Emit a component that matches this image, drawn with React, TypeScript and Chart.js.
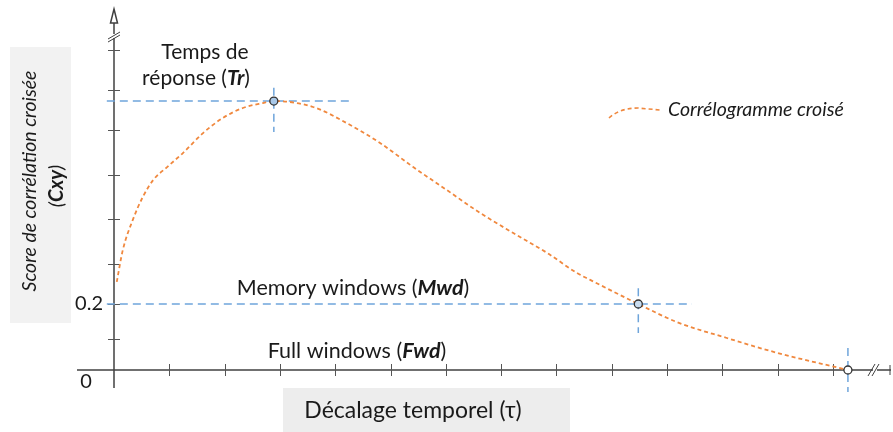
import React, { useEffect, useRef } from "react";
import { Chart, registerables } from "chart.js";
Chart.register(...registerables);

// Cross-correlogram curve: lag (tick units) and correlation score
const lagTau = [0.05, 0.16, 0.34, 0.52, 0.71, 0.96, 1.25, 1.61, 1.97, 2.33, 2.69, 2.89, 3.6, 4.21, 4.81, 5.41, 6.02, 6.62, 7.22, 7.83, 8.37, 8.61, 9.48, 10.18, 11.08, 11.99, 13.27];
const corrCxy = [0.267, 0.364, 0.455, 0.524, 0.576, 0.615, 0.658, 0.718, 0.764, 0.794, 0.809, 0.815, 0.797, 0.748, 0.688, 0.615, 0.545, 0.476, 0.415, 0.355, 0.294, 0.273, 0.2, 0.145, 0.097, 0.052, 0];

// Key points: Tr, Mwd, Fwd
const markerTau = [2.89, 9.48, 13.27];
const markerCxy = [0.815, 0.2, 0];

// Guide lines (blue dashed)
const trHorizTau = [-0.13, 4.27];
const trVertCxy = [0.855, 0.721];
const mwdHorizTau = [-0.13, 10.45];
const mwdVertCxy = [0.248, 0.112];
const fwdVertCxy = [0.067, -0.067];

// Axis ticks
const xTickValues = [1, 2, 3, 4, 5, 6, 7, 8, 9, 10, 11, 12, 13];
const yTickValues = [0.094, 0.2, 0.321, 0.458, 0.591, 0.727, 0.848, 0.97];
const yLabelValues = [0.2];
const yLabelTexts = ["0.2"];

const X_MAX = 13.85;
const Y_MAX = 1.0909;

const ORANGE = "#F0883E";
const BLUE = "#6FA5DB";
const AXIS = "#404040";
const FONT = "Lato";

type Seg = { t: string; b?: boolean; i?: boolean };

function drawRich(ctx: CanvasRenderingContext2D, segs: Seg[], cx: number, cy: number, size: number, baseItalic = false) {
  const fontOf = (s: Seg) => `${s.i || baseItalic ? "italic " : ""}${s.b ? "bold " : ""}${size}px ${FONT}`;
  let total = 0;
  const widths = segs.map((s) => {
    ctx.font = fontOf(s);
    const w = ctx.measureText(s.t).width;
    total += w;
    return w;
  });
  let x = cx - total / 2;
  ctx.textBaseline = "middle";
  ctx.textAlign = "left";
  segs.forEach((s, k) => {
    ctx.font = fontOf(s);
    ctx.fillText(s.t, x, cy);
    x += widths[k];
  });
}

const decorPlugin = {
  id: "decor",
  beforeDraw(chart: any) {
    const ctx = chart.ctx as CanvasRenderingContext2D;
    ctx.save();
    ctx.fillStyle = "#ffffff";
    ctx.fillRect(0, 0, chart.width, chart.height);
    // title boxes
    ctx.fillStyle = "#F2F2F2";
    ctx.fillRect(10, 47, 61, 276);
    ctx.fillStyle = "#EDEDED";
    ctx.fillRect(283, 388, 287, 44);
    ctx.restore();
  },
  beforeDatasetsDraw(chart: any) {
    const ctx = chart.ctx as CanvasRenderingContext2D;
    const xs = chart.scales.x;
    const ys = chart.scales.y;
    const x0 = xs.getPixelForValue(0);
    const y0 = ys.getPixelForValue(0);
    ctx.save();
    ctx.strokeStyle = AXIS;
    ctx.lineWidth = 1.5;
    // y axis
    ctx.beginPath();
    ctx.moveTo(x0, y0 + 18);
    ctx.lineTo(x0, 22);
    ctx.stroke();
    // arrow head (open)
    ctx.beginPath();
    ctx.moveTo(x0, 9);
    ctx.lineTo(x0 + 3.5, 23);
    ctx.lineTo(x0 - 3.5, 23);
    ctx.closePath();
    ctx.fillStyle = "#fff";
    ctx.fill();
    ctx.stroke();
    // y-axis break
    ctx.fillStyle = "#fff";
    ctx.fillRect(x0 - 3, 34, 6, 4);
    ctx.lineWidth = 1;
    ctx.beginPath();
    ctx.moveTo(x0 - 6, 39);
    ctx.lineTo(x0 + 6, 32);
    ctx.moveTo(x0 - 6, 42);
    ctx.lineTo(x0 + 6, 35);
    ctx.stroke();
    // x axis
    ctx.lineWidth = 1.5;
    ctx.beginPath();
    ctx.moveTo(77, y0);
    ctx.lineTo(891, y0);
    ctx.stroke();
    ctx.fillStyle = "#fff";
    ctx.fillRect(873, y0 - 3, 4, 6);
    ctx.lineWidth = 1;
    ctx.beginPath();
    ctx.moveTo(868, y0 + 6);
    ctx.lineTo(875, y0 - 6);
    ctx.moveTo(872, y0 + 6);
    ctx.lineTo(879, y0 - 6);
    ctx.moveTo(890, y0 - 5);
    ctx.lineTo(890, y0 + 5);
    ctx.stroke();
    // ticks
    ctx.strokeStyle = "#555";
    ctx.lineWidth = 1;
    ctx.beginPath();
    yTickValues.forEach((v) => {
      const y = Math.round(ys.getPixelForValue(v)) + 0.5;
      ctx.moveTo(x0 - 6, y);
      ctx.lineTo(x0 + 6, y);
    });
    xTickValues.forEach((v) => {
      const x = Math.round(xs.getPixelForValue(v)) + 0.5;
      ctx.moveTo(x, y0 - 6);
      ctx.lineTo(x, y0 + 6);
    });
    ctx.stroke();
    ctx.restore();
  },
  afterDraw(chart: any) {
    const ctx = chart.ctx as CanvasRenderingContext2D;
    const xs = chart.scales.x;
    const ys = chart.scales.y;
    const x0 = xs.getPixelForValue(0);
    const y0 = ys.getPixelForValue(0);
    ctx.save();
    ctx.fillStyle = "#1a1a1a";
    // tick labels
    ctx.font = `20px ${FONT}`;
    ctx.textAlign = "right";
    ctx.textBaseline = "middle";
    yLabelValues.forEach((v, k) => {
      ctx.fillText(yLabelTexts[k], x0 - 11, ys.getPixelForValue(v));
    });
    ctx.textAlign = "center";
    ctx.fillText("0", 86, y0 + 12);

    // annotations
    drawRich(ctx, [{ t: "Temps de" }], 205, 52, 21);
    drawRich(ctx, [{ t: "réponse (" }, { t: "Tr", b: true, i: true }, { t: ")" }], 196, 78, 21);
    drawRich(ctx, [{ t: "Memory windows (" }, { t: "Mwd", b: true, i: true }, { t: ")" }], 353, 288, 21.5);
    drawRich(ctx, [{ t: "Full windows (" }, { t: "Fwd", b: true, i: true }, { t: ")" }], 357, 351, 21.5);

    // axis titles
    drawRich(ctx, [{ t: "Décalage temporel (τ)" }], 413, 411, 23);
    ctx.save();
    ctx.translate(30, 181);
    ctx.rotate(-Math.PI / 2);
    drawRich(ctx, [{ t: "Score de corrélation croisée" }], 0, 0, 19.5, true);
    ctx.restore();
    ctx.save();
    ctx.translate(57, 186);
    ctx.rotate(-Math.PI / 2);
    drawRich(ctx, [{ t: "(" }, { t: "Cxy", b: true }, { t: ")" }], 0, 0, 20, true);
    ctx.restore();

    // legend
    ctx.strokeStyle = ORANGE;
    ctx.lineWidth = 1.6;
    ctx.setLineDash([4, 3]);
    ctx.beginPath();
    ctx.moveTo(609, 118);
    ctx.quadraticCurveTo(620, 108, 638, 108);
    ctx.lineTo(660, 110);
    ctx.stroke();
    ctx.setLineDash([]);
    ctx.fillStyle = "#1a1a1a";
    ctx.font = `italic 19.5px ${FONT}`;
    ctx.textAlign = "left";
    ctx.textBaseline = "middle";
    ctx.fillText("Corrélogramme croisé", 668, 110);
    ctx.restore();
  },
};

export default function App() {
  const ref = useRef<HTMLCanvasElement>(null);
  useEffect(() => {
    if (!ref.current) return;
    const guide = (pts: { x: number; y: number }[]) => ({
      type: "line" as const,
      data: pts,
      borderColor: BLUE,
      borderWidth: 1.5,
      borderDash: [8, 5],
      pointRadius: 0,
      fill: false,
      clip: false as any,
      order: 3,
    });
    const chart = new Chart(ref.current, {
      type: "line",
      data: {
        datasets: [
          guide(trHorizTau.map((x) => ({ x, y: markerCxy[0] }))),
          guide(trVertCxy.map((y) => ({ x: markerTau[0], y }))),
          guide(mwdHorizTau.map((x) => ({ x, y: markerCxy[1] }))),
          guide(mwdVertCxy.map((y) => ({ x: markerTau[1], y }))),
          guide(fwdVertCxy.map((y) => ({ x: markerTau[2], y }))),
          {
            type: "line",
            data: lagTau.map((x, k) => ({ x, y: corrCxy[k] })),
            borderColor: ORANGE,
            borderWidth: 1.8,
            borderDash: [4, 3],
            pointRadius: 0,
            cubicInterpolationMode: "monotone",
            fill: false,
            clip: false as any,
            order: 2,
          },
          {
            type: "scatter",
            data: markerTau.map((x, k) => ({ x, y: markerCxy[k] })),
            pointRadius: 4,
            pointBackgroundColor: ["#A9C8E8", "#C9DCEF", "#ffffff"],
            pointBorderColor: "#333",
            pointBorderWidth: 1.3,
            clip: false as any,
            order: 1,
          },
        ],
      },
      options: {
        responsive: false,
        animation: false,
        layout: { padding: { left: 114, right: 13, top: 10, bottom: 62 } },
        plugins: { legend: { display: false }, tooltip: { enabled: false } },
        scales: {
          x: { type: "linear", min: 0, max: X_MAX, display: false },
          y: { type: "linear", min: 0, max: Y_MAX, display: false },
        },
      },
      plugins: [decorPlugin],
    });
    return () => chart.destroy();
  }, []);
  return (
    <div style={{ position: "absolute", left: 0, top: 0, width: 893, height: 432 }}>
      <canvas ref={ref} width={893} height={432} />
    </div>
  );
}
